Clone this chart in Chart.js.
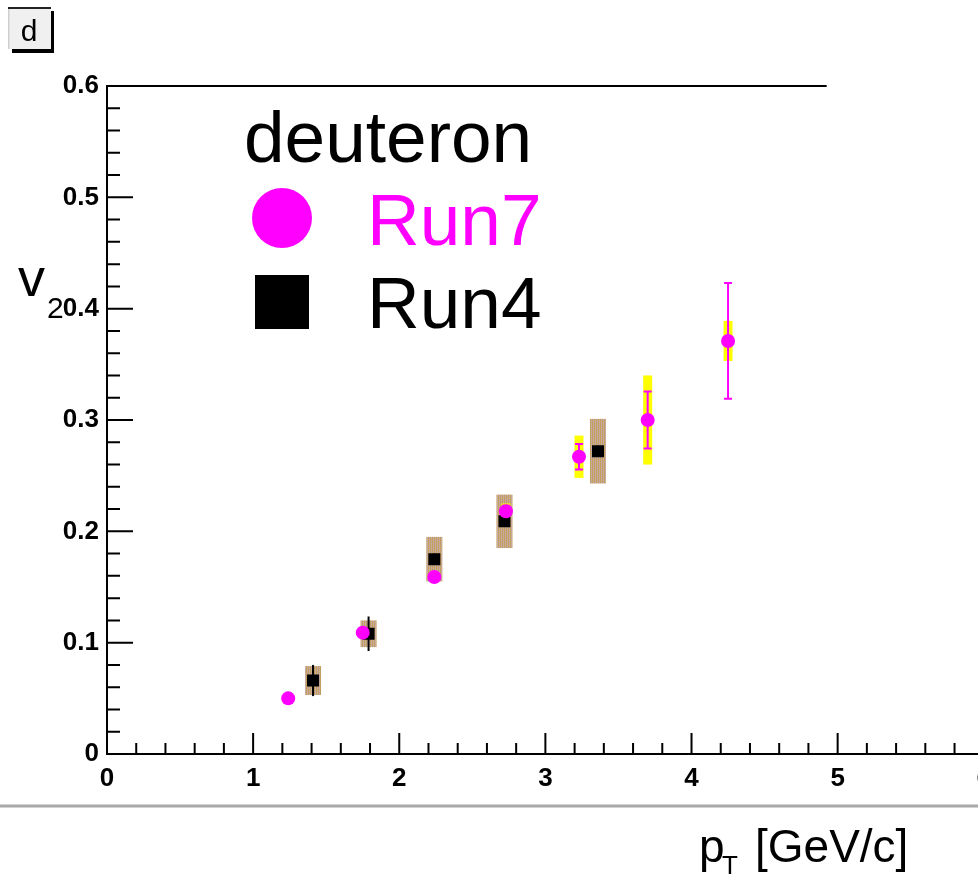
<!DOCTYPE html>
<html>
<head>
<meta charset="utf-8">
<script src="https://cdn.jsdelivr.net/npm/chart.js@4.4.1/dist/chart.umd.min.js"></script>
<style>
  html, body { margin: 0; padding: 0; background: #ffffff; overflow: hidden; width: 978px; height: 876px; }
  #wrap { position: relative; width: 1000px; height: 876px; }
</style>
</head>
<body>
<div id="wrap"><canvas id="c" width="1000" height="876"></canvas></div>
<script>
// Deuteron v2 vs pT — Run7 (circles) and Run4 (squares)
const run7Pt   = [1.24, 1.75, 2.24, 2.73, 3.23, 3.70, 4.25];
const run7V2   = [0.050, 0.109, 0.159, 0.218, 0.267, 0.300, 0.371];
const run7Stat = [0.003, 0.004, 0.004, 0.005, 0.0115, 0.0255, 0.052];
const run7Sys  = [0.002, 0.003, 0.003, 0.007, 0.019, 0.040, 0.018];

const run4Pt   = [1.41, 1.79, 2.24, 2.72, 3.36];
const run4V2   = [0.066, 0.108, 0.175, 0.209, 0.272];
const run4Stat = [0.014, 0.0155, 0.005, 0.005, 0.005];
const run4Sys  = [0.013, 0.012, 0.020, 0.024, 0.029];

const xTickLabels = ['0', '1', '2', '3', '4', '5', '6'];
const yTickLabels = ['0', '0.1', '0.2', '0.3', '0.4', '0.5', '0.6'];

const legendTitle = 'deuteron';
const seriesNames = ['Run7', 'Run4'];

const MAGENTA = '#ff00ff';
const YELLOW = '#ffff00';
const FONT = '"Liberation Sans", Arial, Helvetica, sans-serif';

// dithered tan texture used for the Run4 systematic boxes
function makeTexture() {
  const c = document.createElement('canvas');
  c.width = 4; c.height = 4;
  const g = c.getContext('2d');
  const cols = ['#c9a64f', '#c3a2b3', '#b89a6c', '#cfb08a'];
  for (let i = 0; i < 4; i++) {
    for (let j = 0; j < 4; j++) {
      g.fillStyle = cols[(i * 3 + j * 2) % 4];
      g.fillRect(i, j, 1, 1);
    }
  }
  return c;
}

const decor = {
  id: 'decor',
  beforeDraw(chart) {
    const ctx = chart.ctx;
    ctx.save();
    ctx.fillStyle = '#ffffff';
    ctx.fillRect(0, 0, chart.width, chart.height);
    ctx.restore();
  },
  beforeDatasetsDraw(chart) {
    const { ctx, scales: { x, y } } = chart;
    ctx.save();
    // Run4 systematic boxes
    ctx.fillStyle = ctx.createPattern(makeTexture(), 'repeat');
    run4Pt.forEach((p, i) => {
      const px = x.getPixelForValue(p);
      const top = y.getPixelForValue(run4V2[i] + run4Sys[i]);
      const bot = y.getPixelForValue(run4V2[i] - run4Sys[i]);
      ctx.fillRect(px - 8, top, 16, bot - top);
    });
    // Run7 systematic boxes
    ctx.fillStyle = YELLOW;
    run7Pt.forEach((p, i) => {
      const px = x.getPixelForValue(p);
      const top = y.getPixelForValue(run7V2[i] + run7Sys[i]);
      const bot = y.getPixelForValue(run7V2[i] - run7Sys[i]);
      ctx.fillRect(px - 4.5, top, 9, bot - top);
    });
    // Run4 statistical errors
    ctx.strokeStyle = '#000000';
    ctx.lineWidth = 2;
    run4Pt.forEach((p, i) => {
      const px = x.getPixelForValue(p);
      ctx.beginPath();
      ctx.moveTo(px, y.getPixelForValue(run4V2[i] + run4Stat[i]));
      ctx.lineTo(px, y.getPixelForValue(run4V2[i] - run4Stat[i]));
      ctx.stroke();
    });
    // Run7 statistical errors with caps
    ctx.strokeStyle = MAGENTA;
    run7Pt.forEach((p, i) => {
      const px = x.getPixelForValue(p);
      const top = y.getPixelForValue(run7V2[i] + run7Stat[i]);
      const bot = y.getPixelForValue(run7V2[i] - run7Stat[i]);
      ctx.beginPath();
      ctx.moveTo(px, top); ctx.lineTo(px, bot);
      ctx.moveTo(px - 4, top); ctx.lineTo(px + 4, top);
      ctx.moveTo(px - 4, bot); ctx.lineTo(px + 4, bot);
      ctx.stroke();
    });
    ctx.restore();
  },
  afterDraw(chart) {
    const { ctx, chartArea: a, scales: { x, y } } = chart;
    ctx.save();
    ctx.strokeStyle = '#000000';

    // inward tick marks on the x axis (every 0.2)
    ctx.lineWidth = 2;
    ctx.beginPath();
    for (let k = 0; k <= 30; k++) {
      const px = x.getPixelForValue(k * 0.2);
      const len = (k % 5 === 0) ? 21 : 11;
      ctx.moveTo(px, a.bottom); ctx.lineTo(px, a.bottom - len);
    }
    // inward tick marks on the y axis (every 0.02)
    for (let k = 0; k <= 30; k++) {
      const py = y.getPixelForValue(k * 0.02);
      const len = (k % 5 === 0) ? 26 : 13;
      ctx.moveTo(a.left, py); ctx.lineTo(a.left + len, py);
    }
    ctx.stroke();

    // upper frame line
    ctx.beginPath();
    ctx.moveTo(a.left, a.top);
    ctx.lineTo(x.getPixelForValue(4.925), a.top);
    ctx.stroke();

    // grey separator line and x-axis title
    ctx.strokeStyle = '#a8a8a8';
    ctx.lineWidth = 3;
    ctx.beginPath();
    ctx.moveTo(0, 806); ctx.lineTo(chart.width, 806);
    ctx.stroke();
    ctx.fillStyle = '#000000';
    ctx.textBaseline = 'alphabetic';
    ctx.textAlign = 'left';
    ctx.font = '46px ' + FONT;
    ctx.fillText('p', 699, 862);
    ctx.font = '26px ' + FONT;
    ctx.fillText('T', 722, 874);
    ctx.font = '46px ' + FONT;
    ctx.fillText('[GeV/c]', 755, 862);

    // y-axis title
    ctx.font = '54px ' + FONT;
    ctx.fillText('v', 18, 296);
    ctx.font = '30px ' + FONT;
    ctx.fillText('2', 47, 318);

    // legend
    ctx.font = '73px ' + FONT;
    ctx.fillStyle = '#000000';
    ctx.fillText(legendTitle, 244, 162);
    ctx.fillStyle = MAGENTA;
    ctx.beginPath();
    ctx.arc(282, 218, 30, 0, Math.PI * 2);
    ctx.fill();
    ctx.fillText(seriesNames[0], 367, 245);
    ctx.fillStyle = '#000000';
    ctx.fillRect(255, 275, 54, 54);
    ctx.fillText(seriesNames[1], 367, 328);

    // pad label box
    ctx.fillStyle = '#000000';
    ctx.fillRect(12, 11, 42, 42);
    ctx.fillStyle = '#f0f0f0';
    ctx.fillRect(8, 7, 43, 42);
    ctx.fillStyle = '#222222';
    ctx.fillRect(8, 7, 43, 2);
    ctx.fillStyle = '#cfcfcf';
    ctx.fillRect(8, 9, 1.5, 40);
    ctx.fillStyle = '#000000';
    ctx.font = '30px ' + FONT;
    ctx.textAlign = 'center';
    ctx.fillText('d', 29, 41);
    ctx.restore();
  }
};

new Chart(document.getElementById('c'), {
  type: 'scatter',
  data: {
    datasets: [
      {
        label: seriesNames[0],
        data: run7Pt.map((p, i) => ({ x: p, y: run7V2[i] })),
        pointStyle: 'circle',
        pointRadius: 7,
        backgroundColor: MAGENTA,
        borderColor: MAGENTA,
        borderWidth: 0
      },
      {
        label: seriesNames[1],
        data: run4Pt.map((p, i) => ({ x: p, y: run4V2[i] })),
        pointStyle: 'rect',
        pointRadius: 8.5,
        backgroundColor: '#000000',
        borderColor: '#000000',
        borderWidth: 0
      }
    ]
  },
  options: {
    responsive: false,
    animation: false,
    events: [],
    layout: { padding: { top: 86, right: 15, left: 0, bottom: 0 } },
    plugins: { legend: { display: false }, tooltip: { enabled: false }, title: { display: false } },
    scales: {
      x: {
        type: 'linear',
        min: 0, max: 6,
        afterFit(s) { s.height = 122; },
        grid: { display: false, drawTicks: false },
        border: { display: true, color: '#000000', width: 2 },
        ticks: {
          stepSize: 1,
          padding: 9,
          color: '#000000',
          font: { family: FONT, size: 26, weight: 'bold' },
          maxRotation: 0,
          callback: (v, i) => xTickLabels[i]
        }
      },
      y: {
        type: 'linear',
        min: 0, max: 0.6,
        afterFit(s) { s.width = 107; },
        grid: { display: false, drawTicks: false },
        border: { display: true, color: '#000000', width: 2 },
        ticks: {
          stepSize: 0.1,
          padding: 8,
          color: '#000000',
          font: { family: FONT, size: 26, weight: 'bold' },
          callback: (v, i) => yTickLabels[i]
        }
      }
    }
  },
  plugins: [decor]
});
</script>
</body>
</html>
